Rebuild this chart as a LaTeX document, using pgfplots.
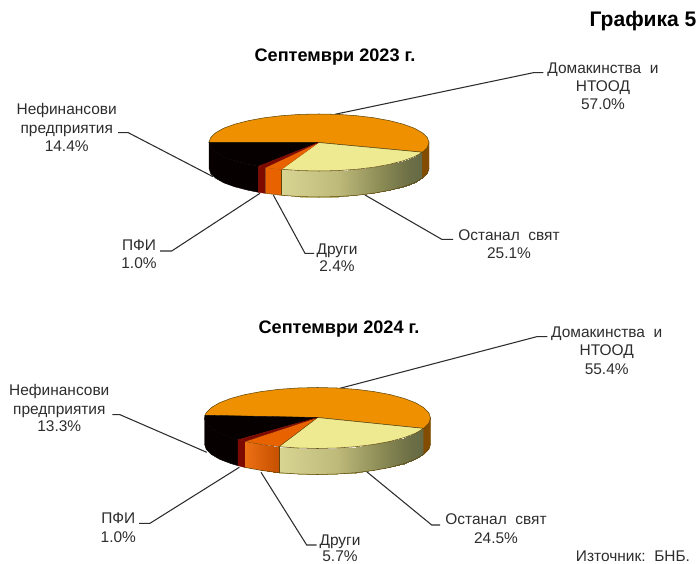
\documentclass[border=0pt]{standalone}
\usepackage{fontspec}
\setmainfont{Liberation Sans}
\usepackage{pgfplots}
\pgfplotsset{compat=1.18}
\definecolor{topor}{RGB}{238,144,0}
\definecolor{topye}{RGB}{238,234,146}
\definecolor{topot}{RGB}{232,98,0}
\definecolor{topre}{RGB}{125,10,0}
\definecolor{topbl}{RGB}{6,0,0}
\definecolor{wallor}{RGB}{132,76,0}
\definecolor{rim}{RGB}{95,70,10}
\definecolor{lead}{RGB}{45,45,45}
\definecolor{txt}{RGB}{45,45,45}
\pgfplotsset{
  colormap={wally}{rgb255(0cm)=(216,212,146) rgb255(4cm)=(190,186,122) rgb255(7cm)=(140,140,86) rgb255(9cm)=(110,112,70) rgb255(10cm)=(100,106,70)},
  colormap={wallo}{rgb255=(236,112,20) rgb255=(198,80,0)},
  wall/.style={surf,shader=interp,point meta=x,point meta rel=per plot,mesh/cols=2},
}
\tikzset{
  lab/.style={font=\fontsize{11.6}{13}\selectfont,text=txt,anchor=mid,inner sep=0pt,yshift=-1.1pt},
  ttl/.style={font=\fontsize{13.6}{15}\selectfont\bfseries,text=black,anchor=mid,inner sep=0pt,yshift=-1.9pt},
}
\begin{document}
\begin{tikzpicture}
\path[use as bounding box] (0,0) rectangle (522.75pt,423pt);
\begin{axis}[
  at={(0,0)},anchor=south west,
  width=522.75pt,height=423pt,scale only axis,
  xmin=0,xmax=697,ymin=0,ymax=564,y dir=reverse,
  hide axis,clip=false,
]
% leader lines, upper pie
\addplot[lead,line width=.8pt,no marks] coordinates {(118,132.7)(128.3,132.7)(213,176.7)};
\addplot[lead,line width=.8pt,no marks] coordinates {(160,251)(171.7,251)(260,193.3)};
\addplot[lead,line width=.8pt,no marks] coordinates {(273.3,195)(305,253.3)(314,253.3)};
\addplot[lead,line width=.8pt,no marks] coordinates {(365,195)(441.7,239.3)(453,239.3)};
\addplot[lead,line width=.8pt,no marks] coordinates {(335,114.3)(533.3,72.7)(543.3,72.7)};
% leader lines, lower pie
\addplot[lead,line width=.8pt,no marks] coordinates {(112.3,414.7)(120,414.7)(206.7,452.3)};
\addplot[lead,line width=.8pt,no marks] coordinates {(139,523.3)(150,523.3)(239.3,467.3)};
\addplot[lead,line width=.8pt,no marks] coordinates {(261,472.3)(306.7,545)(316.7,545)};
\addplot[lead,line width=.8pt,no marks] coordinates {(366.7,471.7)(431.7,525)(440,525)};
\addplot[lead,line width=.8pt,no marks] coordinates {(340,388.3)(536.7,336.7)(547.3,336.7)};

% upper pie, walls
\addplot[fill=topbl,draw=topbl,line width=.3pt] coordinates {(258.3,166.3)(248.3,164.3)(234.7,160.8)(223.7,156.8)(215.6,152.2)(210.7,147.5)(209,142.5)(209,168.5)(210.7,173.5)(215.6,178.2)(223.7,182.8)(234.7,186.8)(248.3,190.3)(258.3,192.3)} --cycle;
\addplot[fill=topre,draw=topre,line width=.3pt] coordinates {(265.7,167.4)(258.3,166.3)(258.3,192.3)(265.7,193.4)} --cycle;
\addplot[fill=topot,draw=rim,line width=.3pt] coordinates {(281.4,169.3)(265.7,167.4)(265.7,193.4)(281.4,195.3)} --cycle;
\addplot[wall,colormap name=wally,mesh/rows=10] coordinates {
  (281.4,169.3)(281.4,195.3)

  (299.9,170.6)(299.9,196.6)

  (319,171)(319,197)

  (338.1,170.6)(338.1,196.6)

  (356.6,169.3)(356.6,195.3)

  (374,167.2)(374,193.2)

  (389.7,164.3)(389.7,190.3)

  (403.3,160.8)(403.3,186.8)

  (414.3,156.8)(414.3,182.8)

  (422.4,152.2)(422.4,178.2)
};
\addplot[fill=wallor,draw=wallor,line width=.3pt] coordinates {(422.4,152.2)(427.3,147.5)(429,142.5)(429,168.5)(427.3,173.5)(422.4,178.2)} --cycle;
\addplot[draw=rim,line width=.4pt,no marks] coordinates {(281.4,195.3)(299.9,196.6)(319,197)(338.1,196.6)(356.6,195.3)(374,193.2)(389.7,190.3)(403.3,186.8)(414.3,182.8)(422.4,178.2)(427.3,173.5)(429,168.5)};
\addplot[draw=rim,line width=.4pt,no marks] coordinates {(281.4,169.3)(281.4,195.3)};
% upper pie, top faces
\addplot[fill=topor,draw=rim,line width=.4pt] coordinates {(318.5,142.5)(209,142.5)(210.7,137.5)(215.6,132.8)(223.7,128.2)(234.7,124.2)(248.3,120.7)(264,117.8)(281.4,115.7)(299.9,114.4)(319,114)(338.1,114.4)(356.6,115.7)(374,117.8)(389.7,120.7)(403.3,124.2)(414.3,128.2)(422.4,132.8)(427.3,137.5)(429,142.5)(427.3,147.5)(422.4,152.2)} --cycle;
\addplot[fill=topye,draw=rim,line width=.4pt] coordinates {(318.5,142.5)(422.4,152.2)(414.3,156.8)(403.3,160.8)(389.7,164.3)(374,167.2)(356.6,169.3)(338.1,170.6)(319,171)(299.9,170.6)(281.4,169.3)} --cycle;
\addplot[fill=topot,draw=topot,line width=.2pt] coordinates {(318.5,142.5)(281.4,169.3)(265.7,167.4)} --cycle;
\addplot[fill=topbl,draw=topbl,line width=.2pt] coordinates {(318.5,142.5)(258.3,166.3)(248.3,164.3)(234.7,160.8)(223.7,156.8)(215.6,152.2)(210.7,147.5)(209,142.5)} --cycle;
\addplot[fill=topre,draw=topre,line width=.2pt] coordinates {(318.5,142.5)(265.7,167.4)(258.3,166.3)} --cycle;

% lower pie, walls
\addplot[fill=topbl,draw=topbl,line width=.3pt] coordinates {(238.1,439.7)(230.9,437.6)(219.6,433.3)(211.3,428.4)(206.2,423.3)(204.5,418)(204.5,444)(206.2,449.3)(211.3,454.4)(219.6,459.3)(230.9,463.6)(238.1,465.7)} --cycle;
\addplot[fill=topre,draw=topre,line width=.3pt] coordinates {(244.8,441.4)(238.1,439.7)(238.1,465.7)(244.8,467.4)} --cycle;
\addplot[wall,colormap name=wallo,mesh/rows=3] coordinates {
  (244.8,441.4)(244.8,467.4)

  (261,444.4)(261,470.4)

  (278.9,446.7)(278.9,472.7)
};
\addplot[wall,colormap name=wally,mesh/rows=10] coordinates {
  (278.9,446.7)(278.9,472.7)

  (297.9,448)(297.9,474)

  (317.5,448.5)(317.5,474.5)

  (337.1,448)(337.1,474)

  (356.1,446.7)(356.1,472.7)

  (374,444.4)(374,470.4)

  (390.2,441.4)(390.2,467.4)

  (404.1,437.6)(404.1,463.6)

  (415.4,433.3)(415.4,459.3)

  (423.7,428.4)(423.7,454.4)
};
\addplot[fill=wallor,draw=wallor,line width=.3pt] coordinates {(423.7,428.4)(428.8,423.3)(430.5,418)(430.5,444)(428.8,449.3)(423.7,454.4)} --cycle;
\addplot[draw=rim,line width=.4pt,no marks] coordinates {(244.8,467.4)(261,470.4)(278.9,472.7)(297.9,474)(317.5,474.5)(337.1,474)(356.1,472.7)(374,470.4)(390.2,467.4)(404.1,463.6)(415.4,459.3)(423.7,454.4)(428.8,449.3)(430.5,444)};
\addplot[draw=rim,line width=.4pt,no marks] coordinates {(278.9,446.7)(278.9,472.7)};
% lower pie, top faces
\addplot[fill=topor,draw=rim,line width=.4pt] coordinates {(317.5,417.5)(204.9,415.3)(206.2,412.7)(211.3,407.6)(219.6,402.7)(230.9,398.4)(244.8,394.6)(261,391.6)(278.9,389.3)(297.9,388)(317.5,387.5)(337.1,388)(356.1,389.3)(374,391.6)(390.2,394.6)(404.1,398.4)(415.4,402.7)(423.7,407.6)(428.8,412.7)(430.5,418)(428.8,423.3)(423.7,428.4)} --cycle;
\addplot[fill=topye,draw=rim,line width=.4pt] coordinates {(317.5,417.5)(423.7,428.4)(415.4,433.3)(404.1,437.6)(390.2,441.4)(374,444.4)(356.1,446.7)(337.1,448)(317.5,448.5)(297.9,448)(278.9,446.7)} --cycle;
\addplot[fill=topot,draw=rim,line width=.2pt] coordinates {(317.5,417.5)(278.9,446.7)(261,444.4)(244.8,441.4)} --cycle;
\addplot[fill=topbl,draw=topbl,line width=.2pt] coordinates {(317.5,417.5)(238.1,439.7)(230.9,437.6)(219.6,433.3)(211.3,428.4)(206.2,423.3)(204.5,418)(204.9,415.3)} --cycle;
\addplot[fill=topre,draw=topre,line width=.2pt] coordinates {(317.5,417.5)(244.8,441.4)(238.1,439.7)} --cycle;

% titles
\node[ttl,font=\fontsize{15.8}{17}\selectfont\bfseries] at (axis cs:643,20.7) {Графика 5};
\node[ttl] at (axis cs:335,55) {Септември 2023 г.};
\node[ttl] at (axis cs:339,327.5) {Септември 2024 г.};
% labels, upper pie
\node[lab] at (axis cs:66.7,110) {Нефинансови};
\node[lab] at (axis cs:66.7,129) {предприятия};
\node[lab] at (axis cs:66.7,146.7) {14.4\%};
\node[lab] at (axis cs:139,245.7) {ПФИ};
\node[lab] at (axis cs:139,264) {1.0\%};
\node[lab] at (axis cs:337,250) {Други};
\node[lab] at (axis cs:337,267) {2.4\%};
\node[lab] at (axis cs:509,235.7) {Останал\ \ свят};
\node[lab] at (axis cs:509,254) {25.1\%};
\node[lab] at (axis cs:603,68.3) {Домакинства\ \ и};
\node[lab] at (axis cs:603,86.7) {НТООД};
\node[lab] at (axis cs:603,105) {57.0\%};
% labels, lower pie
\node[lab] at (axis cs:59.3,390.7) {Нефинансови};
\node[lab] at (axis cs:59.3,409.7) {предприятия};
\node[lab] at (axis cs:59.3,426.3) {13.3\%};
\node[lab] at (axis cs:118.3,519) {ПФИ};
\node[lab] at (axis cs:118.3,538) {1.0\%};
\node[lab] at (axis cs:340,540.7) {Други};
\node[lab] at (axis cs:340,556.5) {5.7\%};
\node[lab] at (axis cs:496,520) {Останал\ \ свят};
\node[lab] at (axis cs:496,539) {24.5\%};
\node[lab] at (axis cs:606.7,332.7) {Домакинства\ \ и};
\node[lab] at (axis cs:606.7,351) {НТООД};
\node[lab] at (axis cs:606.7,369.3) {55.4\%};
\node[lab] at (axis cs:633,556.5) {Източник:\ \ БНБ.};
\end{axis}
\end{tikzpicture}
\end{document}
